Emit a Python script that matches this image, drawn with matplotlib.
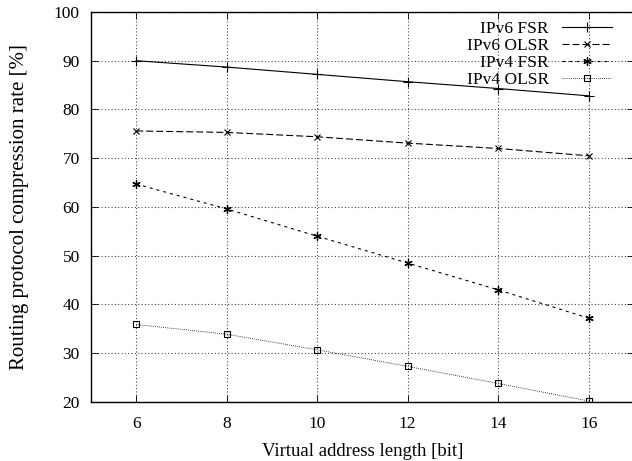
import matplotlib
matplotlib.use("Agg")
import matplotlib.pyplot as plt

bits = [6, 8, 10, 12, 14, 16]
ipv6_fsr = [90.0, 88.7, 87.2, 85.7, 84.3, 82.8]
ipv6_olsr = [75.6, 75.3, 74.4, 73.1, 72.0, 70.5]
ipv4_fsr = [64.7, 59.6, 54.0, 48.5, 43.0, 37.2]
ipv4_olsr = [35.9, 33.9, 30.7, 27.3, 23.8, 20.2]

plt.rcParams['font.family'] = 'Liberation Serif'
plt.rcParams['font.size'] = 12.5

fig = plt.figure(figsize=(6.32, 4.61), dpi=100)
ax = fig.add_axes([0.144, 0.128, 0.859, 0.846])

ax.plot(bits, ipv6_fsr, color='black', lw=0.8, ls='-', marker='+', ms=7,
        mew=0.8, label='IPv6 FSR')
ax.plot(bits, ipv6_olsr, color='black', lw=0.8, ls=(0, (6.3, 2.7)), marker='x',
        ms=5, mew=0.8, label='IPv6 OLSR')
ax.plot(bits, ipv4_fsr, color='black', lw=0.8, ls=(0, (2.7, 3.6)),
        marker=(6, 2, 0), ms=6, mew=0.9, label='IPv4 FSR')
ax.plot(bits, ipv4_olsr, color='black', lw=0.6, ls=(0, (1, 1.5)), marker='s',
        ms=5, mew=0.8, mfc='none', label='IPv4 OLSR')

ax.set_xlim(5, 17)
ax.set_ylim(20, 100)
ax.set_xticks(bits)
ax.set_yticks(range(20, 101, 10))
ax.grid(True, color='#444444', ls=(0, (1, 2)), lw=0.8)
ax.tick_params(direction='in', top=True, right=True, length=5, width=0.6)
ax.tick_params(axis='x', pad=10)
ax.tick_params(axis='y', pad=8)
for s in ax.spines.values():
    s.set_linewidth(1.0)

ax.set_xlabel('Virtual address length [bit]', fontsize=13.5, labelpad=8)
ax.set_ylabel('Routing protocol compression rate [%]', fontsize=15,
              labelpad=18)

leg = ax.legend(loc='upper right', frameon=False, markerfirst=False,
                handlelength=2.9, handletextpad=0.75, labelspacing=0.05,
                borderpad=0, borderaxespad=0,
                bbox_to_anchor=(612 / 632, 1 - 21 / 461),
                bbox_transform=fig.transFigure)
leg.set_zorder(5)

fig.savefig('out.png', dpi=100)
